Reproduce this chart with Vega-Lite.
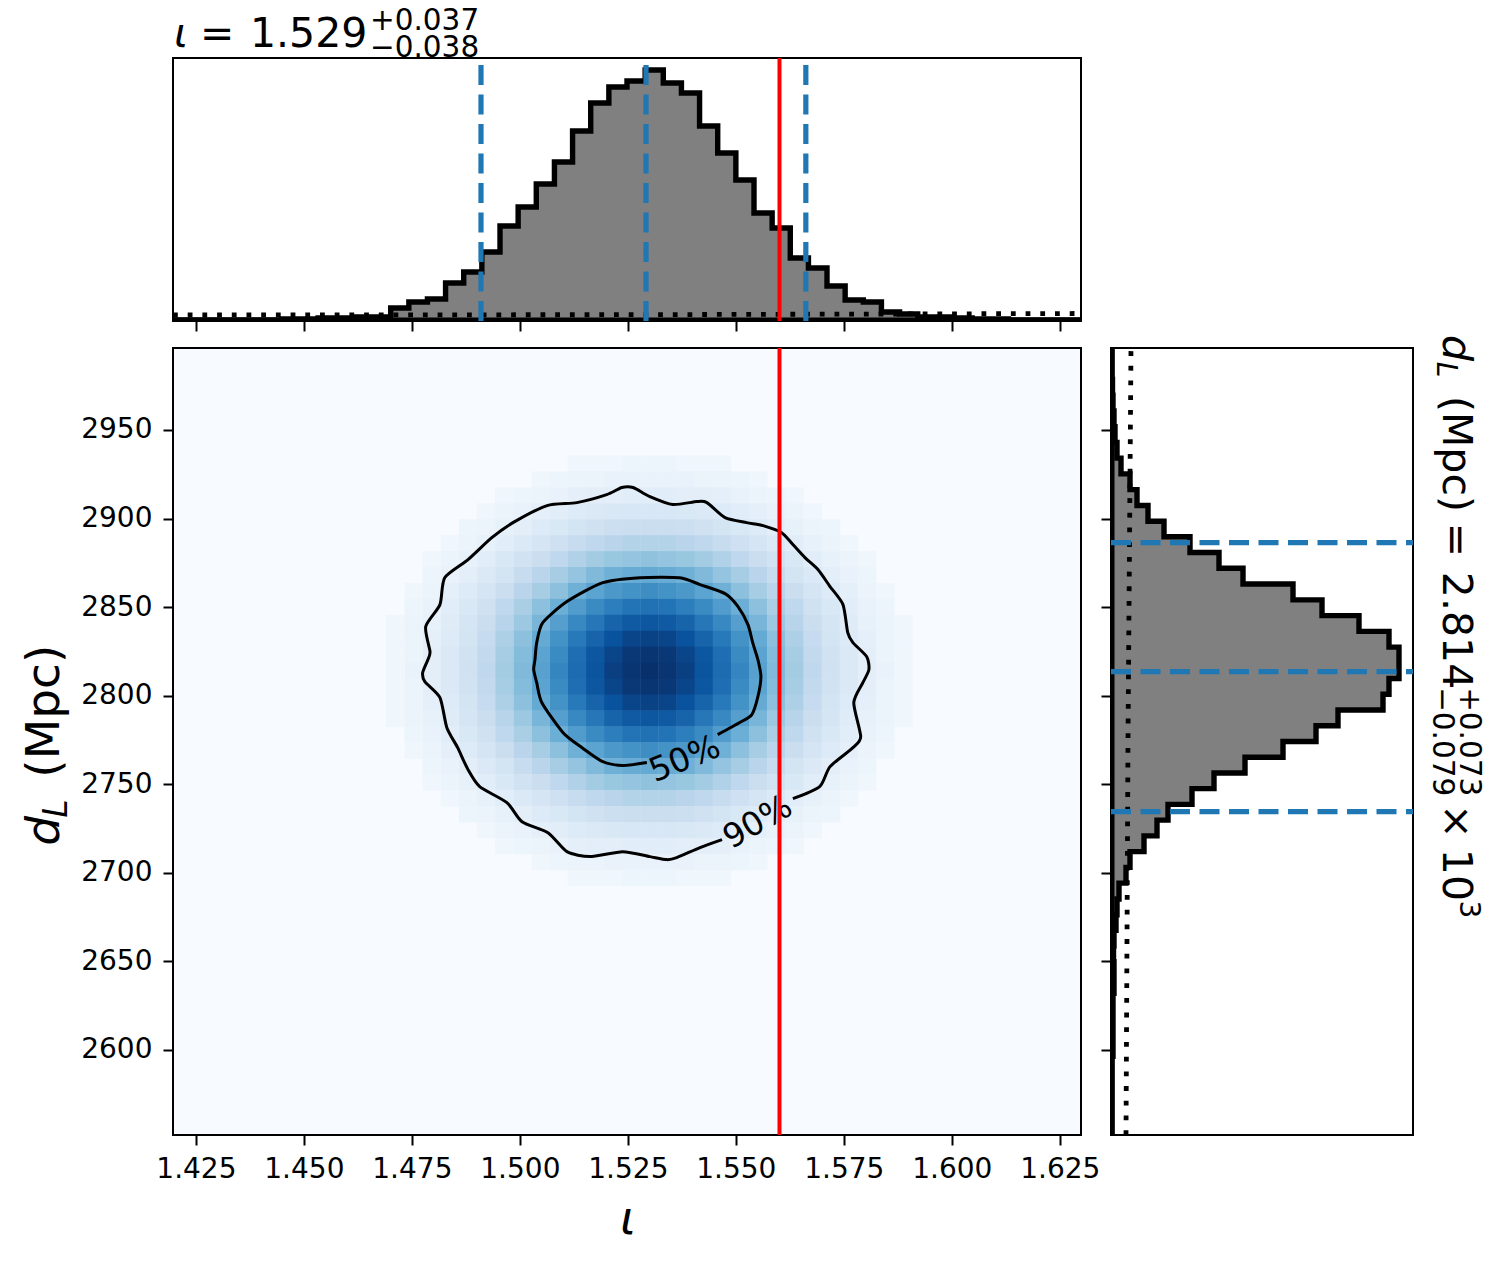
{"$schema":"https://vega.github.io/schema/vega-lite/v6.json","background":"white","padding":{"left":19,"top":4,"right":0,"bottom":0},"config":{"font":"DejaVu Sans","view":{"stroke":"black","strokeWidth":2,"continuousWidth":300,"continuousHeight":300},"axis":{"domain":false,"grid":false,"labelColor":"black","labelFont":"DejaVu Sans","labelFontSize":28,"tickColor":"black","tickWidth":2,"tickSize":10,"title":null,"labelPadding":10},"text":{"font":"DejaVu Sans","color":"black"}},
"datasets":{"top":[{"x":1.4197,"h":0},{"x":1.4407,"h":0},{"x":1.4449,"h":1},{"x":1.4491,"h":1},{"x":1.4533,"h":2},{"x":1.4575,"h":2},{"x":1.4617,"h":3},{"x":1.4659,"h":3},{"x":1.4701,"h":12},{"x":1.4743,"h":18},{"x":1.4786,"h":21},{"x":1.4828,"h":37},{"x":1.487,"h":48},{"x":1.4912,"h":68},{"x":1.4954,"h":94},{"x":1.4996,"h":113},{"x":1.5038,"h":136},{"x":1.508,"h":158},{"x":1.5122,"h":189},{"x":1.5164,"h":217},{"x":1.5206,"h":233},{"x":1.5248,"h":239},{"x":1.529,"h":250},{"x":1.5332,"h":237},{"x":1.5374,"h":227},{"x":1.5416,"h":194},{"x":1.5458,"h":167},{"x":1.55,"h":140},{"x":1.5542,"h":107},{"x":1.5584,"h":92},{"x":1.5626,"h":62},{"x":1.5668,"h":52},{"x":1.5711,"h":34},{"x":1.5753,"h":20},{"x":1.5795,"h":18},{"x":1.5837,"h":8},{"x":1.5879,"h":6},{"x":1.5921,"h":3},{"x":1.5963,"h":3},{"x":1.6005,"h":2},{"x":1.6047,"h":1},{"x":1.6089,"h":1},{"x":1.6131,"h":0},{"x":1.6299,"h":0}],
"right":[{"y":2551.9,"h":0},{"y":2596.4,"h":1},{"y":2605.2,"h":1},{"y":2614.1,"h":1},{"y":2623,"h":1},{"y":2631.9,"h":2},{"y":2640.8,"h":2},{"y":2649.7,"h":1.5},{"y":2658.6,"h":2},{"y":2667.5,"h":4},{"y":2676.3,"h":5},{"y":2685.2,"h":7},{"y":2694.1,"h":14},{"y":2703,"h":18},{"y":2711.9,"h":32},{"y":2720.8,"h":45},{"y":2729.7,"h":56},{"y":2738.6,"h":80},{"y":2747.5,"h":102},{"y":2756.3,"h":133},{"y":2765.2,"h":171},{"y":2774.1,"h":204},{"y":2783,"h":226},{"y":2791.9,"h":271},{"y":2800.8,"h":277},{"y":2809.7,"h":287},{"y":2818.6,"h":287},{"y":2827.4,"h":277},{"y":2836.3,"h":247},{"y":2845.2,"h":210},{"y":2854.1,"h":181},{"y":2863,"h":131},{"y":2871.9,"h":107},{"y":2880.8,"h":78},{"y":2889.7,"h":52},{"y":2898.5,"h":36},{"y":2907.4,"h":25},{"y":2916.3,"h":18},{"y":2925.2,"h":9},{"y":2934.1,"h":5},{"y":2943,"h":3},{"y":2951.9,"h":2},{"y":2960.8,"h":1},{"y":2969.6,"h":0.5},{"y":2978.5,"h":0},{"y":2996.3,"h":0}],
"priorTop":[{"x":1.4197,"h":5},{"x":1.525,"h":5.3},{"x":1.6299,"h":6.5}],
"priorRight":[{"y":2551.9,"h":14},{"y":2775,"h":16},{"y":2996.3,"h":19}],
"c90":[{"n":0,"x":1.5468,"y":2718.7},{"n":1,"x":1.5417,"y":2714.2},{"n":2,"x":1.5363,"y":2708.5},{"n":3,"x":1.534,"y":2707.4},{"n":4,"x":1.5301,"y":2709.1},{"n":5,"x":1.5238,"y":2711.9},{"n":6,"x":1.5162,"y":2709.1},{"n":7,"x":1.5109,"y":2711.9},{"n":8,"x":1.5065,"y":2722.6},{"n":9,"x":1.5005,"y":2728.8},{"n":10,"x":1.497,"y":2739.6},{"n":11,"x":1.4907,"y":2748.6},{"n":12,"x":1.488,"y":2758.2},{"n":13,"x":1.4856,"y":2770.6},{"n":14,"x":1.4831,"y":2781.9},{"n":15,"x":1.4815,"y":2798.9},{"n":16,"x":1.478,"y":2807.9},{"n":17,"x":1.4775,"y":2813},{"n":18,"x":1.4787,"y":2820.3},{"n":19,"x":1.4792,"y":2824.8},{"n":20,"x":1.4782,"y":2839},{"n":21,"x":1.4815,"y":2851.4},{"n":22,"x":1.4826,"y":2866.6},{"n":23,"x":1.488,"y":2876.8},{"n":24,"x":1.4935,"y":2889.2},{"n":25,"x":1.4984,"y":2897.7},{"n":26,"x":1.5063,"y":2907.3},{"n":27,"x":1.5132,"y":2909},{"n":28,"x":1.5201,"y":2913.5},{"n":29,"x":1.5236,"y":2917.5},{"n":30,"x":1.5262,"y":2917.5},{"n":31,"x":1.5301,"y":2912.4},{"n":32,"x":1.5354,"y":2907.9},{"n":33,"x":1.541,"y":2909.6},{"n":34,"x":1.5433,"y":2909},{"n":35,"x":1.5475,"y":2900.5},{"n":36,"x":1.5525,"y":2897.7},{"n":37,"x":1.5563,"y":2896},{"n":38,"x":1.5606,"y":2892},{"n":39,"x":1.5632,"y":2885.3},{"n":40,"x":1.566,"y":2877.9},{"n":41,"x":1.569,"y":2871.2},{"n":42,"x":1.5718,"y":2861.6},{"n":43,"x":1.5748,"y":2851.4},{"n":44,"x":1.5759,"y":2835.6},{"n":45,"x":1.5771,"y":2829.9},{"n":46,"x":1.5803,"y":2822},{"n":47,"x":1.5808,"y":2814.7},{"n":48,"x":1.5794,"y":2807.3},{"n":49,"x":1.5773,"y":2796},{"n":50,"x":1.5789,"y":2776.8},{"n":51,"x":1.5771,"y":2770.6},{"n":52,"x":1.5718,"y":2759.9},{"n":53,"x":1.5694,"y":2748.6},{"n":54,"x":1.5632,"y":2741.8}],
"c50":[{"n":0,"x":1.5294,"y":2762.2},{"n":1,"x":1.5238,"y":2760.5},{"n":2,"x":1.5192,"y":2762.7},{"n":3,"x":1.5144,"y":2770.6},{"n":4,"x":1.51,"y":2779.1},{"n":5,"x":1.5051,"y":2796},{"n":6,"x":1.5039,"y":2807.3},{"n":7,"x":1.5032,"y":2814.7},{"n":8,"x":1.5035,"y":2820.3},{"n":9,"x":1.5039,"y":2829.9},{"n":10,"x":1.5053,"y":2841.2},{"n":11,"x":1.5109,"y":2853.1},{"n":12,"x":1.5192,"y":2863.8},{"n":13,"x":1.5278,"y":2866.6},{"n":14,"x":1.537,"y":2866.6},{"n":15,"x":1.5417,"y":2862.7},{"n":16,"x":1.5475,"y":2857.6},{"n":17,"x":1.5505,"y":2850.3},{"n":18,"x":1.5528,"y":2840.1},{"n":19,"x":1.5539,"y":2829.9},{"n":20,"x":1.5551,"y":2820.3},{"n":21,"x":1.5558,"y":2810.7},{"n":22,"x":1.5551,"y":2799.4},{"n":23,"x":1.5537,"y":2789.3},{"n":24,"x":1.5509,"y":2784.8},{"n":25,"x":1.5458,"y":2778}],
"cells":[
{"x":1.53,"y":2931,"p":0.05},{"x":1.5342,"y":2931,"p":0.05},{"x":1.5258,"y":2931,"p":0.05},{"x":1.5384,"y":2931,"p":0.04},{"x":1.5216,"y":2931,"p":0.04},{"x":1.5426,"y":2931,"p":0.04},{"x":1.5174,"y":2931,"p":0.04},{"x":1.5468,"y":2931,"p":0.04},{"x":1.5132,"y":2931,"p":0.04},
{"x":1.53,"y":2922,"p":0.07},{"x":1.5342,"y":2922,"p":0.07},{"x":1.5258,"y":2922,"p":0.07},{"x":1.5384,"y":2922,"p":0.07},{"x":1.5216,"y":2922,"p":0.07},{"x":1.5426,"y":2922,"p":0.06},{"x":1.5174,"y":2922,"p":0.06},{"x":1.5468,"y":2922,"p":0.06},{"x":1.5132,"y":2922,"p":0.06},{"x":1.551,"y":2922,"p":0.05},{"x":1.509,"y":2922,"p":0.05},{"x":1.5552,"y":2922,"p":0.04},{"x":1.5048,"y":2922,"p":0.04},
{"x":1.53,"y":2913,"p":0.11},{"x":1.5342,"y":2913,"p":0.11},{"x":1.5258,"y":2913,"p":0.11},{"x":1.5384,"y":2913,"p":0.1},{"x":1.5216,"y":2913,"p":0.1},{"x":1.5426,"y":2913,"p":0.1},{"x":1.5174,"y":2913,"p":0.1},{"x":1.5468,"y":2913,"p":0.09},{"x":1.5132,"y":2913,"p":0.09},{"x":1.551,"y":2913,"p":0.07},{"x":1.509,"y":2913,"p":0.07},{"x":1.5552,"y":2913,"p":0.06},{"x":1.5048,"y":2913,"p":0.06},{"x":1.5594,"y":2913,"p":0.05},{"x":1.5006,"y":2913,"p":0.05},{"x":1.5636,"y":2913,"p":0.04},{"x":1.4964,"y":2913,"p":0.04},
{"x":1.53,"y":2904,"p":0.16},{"x":1.5342,"y":2904,"p":0.16},{"x":1.5258,"y":2904,"p":0.16},{"x":1.5384,"y":2904,"p":0.15},{"x":1.5216,"y":2904,"p":0.15},{"x":1.5426,"y":2904,"p":0.14},{"x":1.5174,"y":2904,"p":0.14},{"x":1.5468,"y":2904,"p":0.13},{"x":1.5132,"y":2904,"p":0.13},{"x":1.551,"y":2904,"p":0.11},{"x":1.509,"y":2904,"p":0.11},{"x":1.5552,"y":2904,"p":0.09},{"x":1.5048,"y":2904,"p":0.09},{"x":1.5594,"y":2904,"p":0.07},{"x":1.5006,"y":2904,"p":0.07},{"x":1.5636,"y":2904,"p":0.06},{"x":1.4964,"y":2904,"p":0.06},{"x":1.5678,"y":2904,"p":0.04},{"x":1.4922,"y":2904,"p":0.04},
{"x":1.53,"y":2895,"p":0.23},{"x":1.5342,"y":2895,"p":0.23},{"x":1.5258,"y":2895,"p":0.23},{"x":1.5384,"y":2895,"p":0.22},{"x":1.5216,"y":2895,"p":0.22},{"x":1.5426,"y":2895,"p":0.2},{"x":1.5174,"y":2895,"p":0.2},{"x":1.5468,"y":2895,"p":0.18},{"x":1.5132,"y":2895,"p":0.18},{"x":1.551,"y":2895,"p":0.15},{"x":1.509,"y":2895,"p":0.15},{"x":1.5552,"y":2895,"p":0.13},{"x":1.5048,"y":2895,"p":0.13},{"x":1.5594,"y":2895,"p":0.1},{"x":1.5006,"y":2895,"p":0.1},{"x":1.5636,"y":2895,"p":0.08},{"x":1.4964,"y":2895,"p":0.08},{"x":1.5678,"y":2895,"p":0.06},{"x":1.4922,"y":2895,"p":0.06},{"x":1.572,"y":2895,"p":0.05},{"x":1.488,"y":2895,"p":0.05},
{"x":1.53,"y":2886,"p":0.31},{"x":1.5342,"y":2886,"p":0.31},{"x":1.5258,"y":2886,"p":0.31},{"x":1.5384,"y":2886,"p":0.29},{"x":1.5216,"y":2886,"p":0.29},{"x":1.5426,"y":2886,"p":0.27},{"x":1.5174,"y":2886,"p":0.27},{"x":1.5468,"y":2886,"p":0.24},{"x":1.5132,"y":2886,"p":0.24},{"x":1.551,"y":2886,"p":0.21},{"x":1.509,"y":2886,"p":0.21},{"x":1.5552,"y":2886,"p":0.17},{"x":1.5048,"y":2886,"p":0.17},{"x":1.5594,"y":2886,"p":0.14},{"x":1.5006,"y":2886,"p":0.14},{"x":1.5636,"y":2886,"p":0.11},{"x":1.4964,"y":2886,"p":0.11},{"x":1.5678,"y":2886,"p":0.08},{"x":1.4922,"y":2886,"p":0.08},{"x":1.572,"y":2886,"p":0.06},{"x":1.488,"y":2886,"p":0.06},{"x":1.5762,"y":2886,"p":0.04},{"x":1.4838,"y":2886,"p":0.04},
{"x":1.53,"y":2877,"p":0.41},{"x":1.5342,"y":2877,"p":0.4},{"x":1.5258,"y":2877,"p":0.4},{"x":1.5384,"y":2877,"p":0.39},{"x":1.5216,"y":2877,"p":0.39},{"x":1.5426,"y":2877,"p":0.36},{"x":1.5174,"y":2877,"p":0.36},{"x":1.5468,"y":2877,"p":0.32},{"x":1.5132,"y":2877,"p":0.32},{"x":1.551,"y":2877,"p":0.27},{"x":1.509,"y":2877,"p":0.27},{"x":1.5552,"y":2877,"p":0.23},{"x":1.5048,"y":2877,"p":0.23},{"x":1.5594,"y":2877,"p":0.19},{"x":1.5006,"y":2877,"p":0.19},{"x":1.5636,"y":2877,"p":0.15},{"x":1.4964,"y":2877,"p":0.15},{"x":1.5678,"y":2877,"p":0.11},{"x":1.4922,"y":2877,"p":0.11},{"x":1.572,"y":2877,"p":0.08},{"x":1.488,"y":2877,"p":0.08},{"x":1.5762,"y":2877,"p":0.06},{"x":1.4838,"y":2877,"p":0.06},{"x":1.5804,"y":2877,"p":0.04},{"x":1.4796,"y":2877,"p":0.04},
{"x":1.53,"y":2868,"p":0.52},{"x":1.5342,"y":2868,"p":0.51},{"x":1.5258,"y":2868,"p":0.51},{"x":1.5384,"y":2868,"p":0.49},{"x":1.5216,"y":2868,"p":0.49},{"x":1.5426,"y":2868,"p":0.45},{"x":1.5174,"y":2868,"p":0.45},{"x":1.5468,"y":2868,"p":0.4},{"x":1.5132,"y":2868,"p":0.4},{"x":1.551,"y":2868,"p":0.35},{"x":1.509,"y":2868,"p":0.35},{"x":1.5552,"y":2868,"p":0.29},{"x":1.5048,"y":2868,"p":0.29},{"x":1.5594,"y":2868,"p":0.24},{"x":1.5006,"y":2868,"p":0.24},{"x":1.5636,"y":2868,"p":0.18},{"x":1.4964,"y":2868,"p":0.18},{"x":1.5678,"y":2868,"p":0.14},{"x":1.4922,"y":2868,"p":0.14},{"x":1.572,"y":2868,"p":0.1},{"x":1.488,"y":2868,"p":0.1},{"x":1.5762,"y":2868,"p":0.07},{"x":1.4838,"y":2868,"p":0.07},{"x":1.5804,"y":2868,"p":0.05},{"x":1.4796,"y":2868,"p":0.05},
{"x":1.53,"y":2859,"p":0.64},{"x":1.5342,"y":2859,"p":0.62},{"x":1.5258,"y":2859,"p":0.62},{"x":1.5384,"y":2859,"p":0.6},{"x":1.5216,"y":2859,"p":0.6},{"x":1.5426,"y":2859,"p":0.55},{"x":1.5174,"y":2859,"p":0.55},{"x":1.5468,"y":2859,"p":0.49},{"x":1.5132,"y":2859,"p":0.49},{"x":1.551,"y":2859,"p":0.42},{"x":1.509,"y":2859,"p":0.42},{"x":1.5552,"y":2859,"p":0.35},{"x":1.5048,"y":2859,"p":0.35},{"x":1.5594,"y":2859,"p":0.29},{"x":1.5006,"y":2859,"p":0.29},{"x":1.5636,"y":2859,"p":0.23},{"x":1.4964,"y":2859,"p":0.23},{"x":1.5678,"y":2859,"p":0.17},{"x":1.4922,"y":2859,"p":0.17},{"x":1.572,"y":2859,"p":0.13},{"x":1.488,"y":2859,"p":0.13},{"x":1.5762,"y":2859,"p":0.09},{"x":1.4838,"y":2859,"p":0.09},{"x":1.5804,"y":2859,"p":0.06},{"x":1.4796,"y":2859,"p":0.06},{"x":1.5846,"y":2859,"p":0.04},{"x":1.4754,"y":2859,"p":0.04},
{"x":1.53,"y":2850,"p":0.75},{"x":1.5342,"y":2850,"p":0.74},{"x":1.5258,"y":2850,"p":0.74},{"x":1.5384,"y":2850,"p":0.7},{"x":1.5216,"y":2850,"p":0.7},{"x":1.5426,"y":2850,"p":0.65},{"x":1.5174,"y":2850,"p":0.65},{"x":1.5468,"y":2850,"p":0.58},{"x":1.5132,"y":2850,"p":0.58},{"x":1.551,"y":2850,"p":0.5},{"x":1.509,"y":2850,"p":0.5},{"x":1.5552,"y":2850,"p":0.42},{"x":1.5048,"y":2850,"p":0.42},{"x":1.5594,"y":2850,"p":0.34},{"x":1.5006,"y":2850,"p":0.34},{"x":1.5636,"y":2850,"p":0.27},{"x":1.4964,"y":2850,"p":0.27},{"x":1.5678,"y":2850,"p":0.2},{"x":1.4922,"y":2850,"p":0.2},{"x":1.572,"y":2850,"p":0.15},{"x":1.488,"y":2850,"p":0.15},{"x":1.5762,"y":2850,"p":0.11},{"x":1.4838,"y":2850,"p":0.11},{"x":1.5804,"y":2850,"p":0.07},{"x":1.4796,"y":2850,"p":0.07},{"x":1.5846,"y":2850,"p":0.05},{"x":1.4754,"y":2850,"p":0.05},
{"x":1.53,"y":2841,"p":0.85},{"x":1.5342,"y":2841,"p":0.84},{"x":1.5258,"y":2841,"p":0.84},{"x":1.5384,"y":2841,"p":0.8},{"x":1.5216,"y":2841,"p":0.8},{"x":1.5426,"y":2841,"p":0.73},{"x":1.5174,"y":2841,"p":0.73},{"x":1.5468,"y":2841,"p":0.66},{"x":1.5132,"y":2841,"p":0.66},{"x":1.551,"y":2841,"p":0.57},{"x":1.509,"y":2841,"p":0.57},{"x":1.5552,"y":2841,"p":0.47},{"x":1.5048,"y":2841,"p":0.47},{"x":1.5594,"y":2841,"p":0.38},{"x":1.5006,"y":2841,"p":0.38},{"x":1.5636,"y":2841,"p":0.3},{"x":1.4964,"y":2841,"p":0.3},{"x":1.5678,"y":2841,"p":0.23},{"x":1.4922,"y":2841,"p":0.23},{"x":1.572,"y":2841,"p":0.17},{"x":1.488,"y":2841,"p":0.17},{"x":1.5762,"y":2841,"p":0.12},{"x":1.4838,"y":2841,"p":0.12},{"x":1.5804,"y":2841,"p":0.08},{"x":1.4796,"y":2841,"p":0.08},{"x":1.5846,"y":2841,"p":0.06},{"x":1.4754,"y":2841,"p":0.06},{"x":1.5888,"y":2841,"p":0.04},{"x":1.4712,"y":2841,"p":0.04},
{"x":1.53,"y":2832,"p":0.93},{"x":1.5342,"y":2832,"p":0.92},{"x":1.5258,"y":2832,"p":0.92},{"x":1.5384,"y":2832,"p":0.87},{"x":1.5216,"y":2832,"p":0.87},{"x":1.5426,"y":2832,"p":0.8},{"x":1.5174,"y":2832,"p":0.8},{"x":1.5468,"y":2832,"p":0.72},{"x":1.5132,"y":2832,"p":0.72},{"x":1.551,"y":2832,"p":0.62},{"x":1.509,"y":2832,"p":0.62},{"x":1.5552,"y":2832,"p":0.52},{"x":1.5048,"y":2832,"p":0.52},{"x":1.5594,"y":2832,"p":0.42},{"x":1.5006,"y":2832,"p":0.42},{"x":1.5636,"y":2832,"p":0.33},{"x":1.4964,"y":2832,"p":0.33},{"x":1.5678,"y":2832,"p":0.25},{"x":1.4922,"y":2832,"p":0.25},{"x":1.572,"y":2832,"p":0.18},{"x":1.488,"y":2832,"p":0.18},{"x":1.5762,"y":2832,"p":0.13},{"x":1.4838,"y":2832,"p":0.13},{"x":1.5804,"y":2832,"p":0.09},{"x":1.4796,"y":2832,"p":0.09},{"x":1.5846,"y":2832,"p":0.06},{"x":1.4754,"y":2832,"p":0.06},{"x":1.5888,"y":2832,"p":0.04},{"x":1.4712,"y":2832,"p":0.04},
{"x":1.53,"y":2823,"p":0.98},{"x":1.5342,"y":2823,"p":0.97},{"x":1.5258,"y":2823,"p":0.97},{"x":1.5384,"y":2823,"p":0.92},{"x":1.5216,"y":2823,"p":0.92},{"x":1.5426,"y":2823,"p":0.85},{"x":1.5174,"y":2823,"p":0.85},{"x":1.5468,"y":2823,"p":0.76},{"x":1.5132,"y":2823,"p":0.76},{"x":1.551,"y":2823,"p":0.65},{"x":1.509,"y":2823,"p":0.65},{"x":1.5552,"y":2823,"p":0.55},{"x":1.5048,"y":2823,"p":0.55},{"x":1.5594,"y":2823,"p":0.44},{"x":1.5006,"y":2823,"p":0.44},{"x":1.5636,"y":2823,"p":0.35},{"x":1.4964,"y":2823,"p":0.35},{"x":1.5678,"y":2823,"p":0.26},{"x":1.4922,"y":2823,"p":0.26},{"x":1.572,"y":2823,"p":0.19},{"x":1.488,"y":2823,"p":0.19},{"x":1.5762,"y":2823,"p":0.14},{"x":1.4838,"y":2823,"p":0.14},{"x":1.5804,"y":2823,"p":0.1},{"x":1.4796,"y":2823,"p":0.1},{"x":1.5846,"y":2823,"p":0.06},{"x":1.4754,"y":2823,"p":0.06},{"x":1.5888,"y":2823,"p":0.04},{"x":1.4712,"y":2823,"p":0.04},
{"x":1.53,"y":2814,"p":1},{"x":1.5342,"y":2814,"p":0.98},{"x":1.5258,"y":2814,"p":0.98},{"x":1.5384,"y":2814,"p":0.94},{"x":1.5216,"y":2814,"p":0.94},{"x":1.5426,"y":2814,"p":0.86},{"x":1.5174,"y":2814,"p":0.86},{"x":1.5468,"y":2814,"p":0.77},{"x":1.5132,"y":2814,"p":0.77},{"x":1.551,"y":2814,"p":0.67},{"x":1.509,"y":2814,"p":0.67},{"x":1.5552,"y":2814,"p":0.56},{"x":1.5048,"y":2814,"p":0.56},{"x":1.5594,"y":2814,"p":0.45},{"x":1.5006,"y":2814,"p":0.45},{"x":1.5636,"y":2814,"p":0.36},{"x":1.4964,"y":2814,"p":0.36},{"x":1.5678,"y":2814,"p":0.27},{"x":1.4922,"y":2814,"p":0.27},{"x":1.572,"y":2814,"p":0.2},{"x":1.488,"y":2814,"p":0.2},{"x":1.5762,"y":2814,"p":0.14},{"x":1.4838,"y":2814,"p":0.14},{"x":1.5804,"y":2814,"p":0.1},{"x":1.4796,"y":2814,"p":0.1},{"x":1.5846,"y":2814,"p":0.07},{"x":1.4754,"y":2814,"p":0.07},{"x":1.5888,"y":2814,"p":0.04},{"x":1.4712,"y":2814,"p":0.04},
{"x":1.53,"y":2805,"p":0.98},{"x":1.5342,"y":2805,"p":0.97},{"x":1.5258,"y":2805,"p":0.97},{"x":1.5384,"y":2805,"p":0.92},{"x":1.5216,"y":2805,"p":0.92},{"x":1.5426,"y":2805,"p":0.85},{"x":1.5174,"y":2805,"p":0.85},{"x":1.5468,"y":2805,"p":0.76},{"x":1.5132,"y":2805,"p":0.76},{"x":1.551,"y":2805,"p":0.65},{"x":1.509,"y":2805,"p":0.65},{"x":1.5552,"y":2805,"p":0.55},{"x":1.5048,"y":2805,"p":0.55},{"x":1.5594,"y":2805,"p":0.44},{"x":1.5006,"y":2805,"p":0.44},{"x":1.5636,"y":2805,"p":0.35},{"x":1.4964,"y":2805,"p":0.35},{"x":1.5678,"y":2805,"p":0.26},{"x":1.4922,"y":2805,"p":0.26},{"x":1.572,"y":2805,"p":0.19},{"x":1.488,"y":2805,"p":0.19},{"x":1.5762,"y":2805,"p":0.14},{"x":1.4838,"y":2805,"p":0.14},{"x":1.5804,"y":2805,"p":0.1},{"x":1.4796,"y":2805,"p":0.1},{"x":1.5846,"y":2805,"p":0.06},{"x":1.4754,"y":2805,"p":0.06},{"x":1.5888,"y":2805,"p":0.04},{"x":1.4712,"y":2805,"p":0.04},
{"x":1.53,"y":2796,"p":0.93},{"x":1.5342,"y":2796,"p":0.92},{"x":1.5258,"y":2796,"p":0.92},{"x":1.5384,"y":2796,"p":0.87},{"x":1.5216,"y":2796,"p":0.87},{"x":1.5426,"y":2796,"p":0.8},{"x":1.5174,"y":2796,"p":0.8},{"x":1.5468,"y":2796,"p":0.72},{"x":1.5132,"y":2796,"p":0.72},{"x":1.551,"y":2796,"p":0.62},{"x":1.509,"y":2796,"p":0.62},{"x":1.5552,"y":2796,"p":0.52},{"x":1.5048,"y":2796,"p":0.52},{"x":1.5594,"y":2796,"p":0.42},{"x":1.5006,"y":2796,"p":0.42},{"x":1.5636,"y":2796,"p":0.33},{"x":1.4964,"y":2796,"p":0.33},{"x":1.5678,"y":2796,"p":0.25},{"x":1.4922,"y":2796,"p":0.25},{"x":1.572,"y":2796,"p":0.18},{"x":1.488,"y":2796,"p":0.18},{"x":1.5762,"y":2796,"p":0.13},{"x":1.4838,"y":2796,"p":0.13},{"x":1.5804,"y":2796,"p":0.09},{"x":1.4796,"y":2796,"p":0.09},{"x":1.5846,"y":2796,"p":0.06},{"x":1.4754,"y":2796,"p":0.06},{"x":1.5888,"y":2796,"p":0.04},{"x":1.4712,"y":2796,"p":0.04},
{"x":1.53,"y":2787,"p":0.85},{"x":1.5342,"y":2787,"p":0.84},{"x":1.5258,"y":2787,"p":0.84},{"x":1.5384,"y":2787,"p":0.8},{"x":1.5216,"y":2787,"p":0.8},{"x":1.5426,"y":2787,"p":0.73},{"x":1.5174,"y":2787,"p":0.73},{"x":1.5468,"y":2787,"p":0.66},{"x":1.5132,"y":2787,"p":0.66},{"x":1.551,"y":2787,"p":0.57},{"x":1.509,"y":2787,"p":0.57},{"x":1.5552,"y":2787,"p":0.47},{"x":1.5048,"y":2787,"p":0.47},{"x":1.5594,"y":2787,"p":0.38},{"x":1.5006,"y":2787,"p":0.38},{"x":1.5636,"y":2787,"p":0.3},{"x":1.4964,"y":2787,"p":0.3},{"x":1.5678,"y":2787,"p":0.23},{"x":1.4922,"y":2787,"p":0.23},{"x":1.572,"y":2787,"p":0.17},{"x":1.488,"y":2787,"p":0.17},{"x":1.5762,"y":2787,"p":0.12},{"x":1.4838,"y":2787,"p":0.12},{"x":1.5804,"y":2787,"p":0.08},{"x":1.4796,"y":2787,"p":0.08},{"x":1.5846,"y":2787,"p":0.06},{"x":1.4754,"y":2787,"p":0.06},{"x":1.5888,"y":2787,"p":0.04},{"x":1.4712,"y":2787,"p":0.04},
{"x":1.53,"y":2778,"p":0.75},{"x":1.5342,"y":2778,"p":0.74},{"x":1.5258,"y":2778,"p":0.74},{"x":1.5384,"y":2778,"p":0.7},{"x":1.5216,"y":2778,"p":0.7},{"x":1.5426,"y":2778,"p":0.65},{"x":1.5174,"y":2778,"p":0.65},{"x":1.5468,"y":2778,"p":0.58},{"x":1.5132,"y":2778,"p":0.58},{"x":1.551,"y":2778,"p":0.5},{"x":1.509,"y":2778,"p":0.5},{"x":1.5552,"y":2778,"p":0.42},{"x":1.5048,"y":2778,"p":0.42},{"x":1.5594,"y":2778,"p":0.34},{"x":1.5006,"y":2778,"p":0.34},{"x":1.5636,"y":2778,"p":0.27},{"x":1.4964,"y":2778,"p":0.27},{"x":1.5678,"y":2778,"p":0.2},{"x":1.4922,"y":2778,"p":0.2},{"x":1.572,"y":2778,"p":0.15},{"x":1.488,"y":2778,"p":0.15},{"x":1.5762,"y":2778,"p":0.11},{"x":1.4838,"y":2778,"p":0.11},{"x":1.5804,"y":2778,"p":0.07},{"x":1.4796,"y":2778,"p":0.07},{"x":1.5846,"y":2778,"p":0.05},{"x":1.4754,"y":2778,"p":0.05},
{"x":1.53,"y":2769,"p":0.64},{"x":1.5342,"y":2769,"p":0.62},{"x":1.5258,"y":2769,"p":0.62},{"x":1.5384,"y":2769,"p":0.6},{"x":1.5216,"y":2769,"p":0.6},{"x":1.5426,"y":2769,"p":0.55},{"x":1.5174,"y":2769,"p":0.55},{"x":1.5468,"y":2769,"p":0.49},{"x":1.5132,"y":2769,"p":0.49},{"x":1.551,"y":2769,"p":0.42},{"x":1.509,"y":2769,"p":0.42},{"x":1.5552,"y":2769,"p":0.35},{"x":1.5048,"y":2769,"p":0.35},{"x":1.5594,"y":2769,"p":0.29},{"x":1.5006,"y":2769,"p":0.29},{"x":1.5636,"y":2769,"p":0.23},{"x":1.4964,"y":2769,"p":0.23},{"x":1.5678,"y":2769,"p":0.17},{"x":1.4922,"y":2769,"p":0.17},{"x":1.572,"y":2769,"p":0.13},{"x":1.488,"y":2769,"p":0.13},{"x":1.5762,"y":2769,"p":0.09},{"x":1.4838,"y":2769,"p":0.09},{"x":1.5804,"y":2769,"p":0.06},{"x":1.4796,"y":2769,"p":0.06},{"x":1.5846,"y":2769,"p":0.04},{"x":1.4754,"y":2769,"p":0.04},
{"x":1.53,"y":2760,"p":0.52},{"x":1.5342,"y":2760,"p":0.51},{"x":1.5258,"y":2760,"p":0.51},{"x":1.5384,"y":2760,"p":0.49},{"x":1.5216,"y":2760,"p":0.49},{"x":1.5426,"y":2760,"p":0.45},{"x":1.5174,"y":2760,"p":0.45},{"x":1.5468,"y":2760,"p":0.4},{"x":1.5132,"y":2760,"p":0.4},{"x":1.551,"y":2760,"p":0.35},{"x":1.509,"y":2760,"p":0.35},{"x":1.5552,"y":2760,"p":0.29},{"x":1.5048,"y":2760,"p":0.29},{"x":1.5594,"y":2760,"p":0.24},{"x":1.5006,"y":2760,"p":0.24},{"x":1.5636,"y":2760,"p":0.18},{"x":1.4964,"y":2760,"p":0.18},{"x":1.5678,"y":2760,"p":0.14},{"x":1.4922,"y":2760,"p":0.14},{"x":1.572,"y":2760,"p":0.1},{"x":1.488,"y":2760,"p":0.1},{"x":1.5762,"y":2760,"p":0.07},{"x":1.4838,"y":2760,"p":0.07},{"x":1.5804,"y":2760,"p":0.05},{"x":1.4796,"y":2760,"p":0.05},
{"x":1.53,"y":2751,"p":0.41},{"x":1.5342,"y":2751,"p":0.4},{"x":1.5258,"y":2751,"p":0.4},{"x":1.5384,"y":2751,"p":0.39},{"x":1.5216,"y":2751,"p":0.39},{"x":1.5426,"y":2751,"p":0.36},{"x":1.5174,"y":2751,"p":0.36},{"x":1.5468,"y":2751,"p":0.32},{"x":1.5132,"y":2751,"p":0.32},{"x":1.551,"y":2751,"p":0.27},{"x":1.509,"y":2751,"p":0.27},{"x":1.5552,"y":2751,"p":0.23},{"x":1.5048,"y":2751,"p":0.23},{"x":1.5594,"y":2751,"p":0.19},{"x":1.5006,"y":2751,"p":0.19},{"x":1.5636,"y":2751,"p":0.15},{"x":1.4964,"y":2751,"p":0.15},{"x":1.5678,"y":2751,"p":0.11},{"x":1.4922,"y":2751,"p":0.11},{"x":1.572,"y":2751,"p":0.08},{"x":1.488,"y":2751,"p":0.08},{"x":1.5762,"y":2751,"p":0.06},{"x":1.4838,"y":2751,"p":0.06},{"x":1.5804,"y":2751,"p":0.04},{"x":1.4796,"y":2751,"p":0.04},
{"x":1.53,"y":2742,"p":0.31},{"x":1.5342,"y":2742,"p":0.31},{"x":1.5258,"y":2742,"p":0.31},{"x":1.5384,"y":2742,"p":0.29},{"x":1.5216,"y":2742,"p":0.29},{"x":1.5426,"y":2742,"p":0.27},{"x":1.5174,"y":2742,"p":0.27},{"x":1.5468,"y":2742,"p":0.24},{"x":1.5132,"y":2742,"p":0.24},{"x":1.551,"y":2742,"p":0.21},{"x":1.509,"y":2742,"p":0.21},{"x":1.5552,"y":2742,"p":0.17},{"x":1.5048,"y":2742,"p":0.17},{"x":1.5594,"y":2742,"p":0.14},{"x":1.5006,"y":2742,"p":0.14},{"x":1.5636,"y":2742,"p":0.11},{"x":1.4964,"y":2742,"p":0.11},{"x":1.5678,"y":2742,"p":0.08},{"x":1.4922,"y":2742,"p":0.08},{"x":1.572,"y":2742,"p":0.06},{"x":1.488,"y":2742,"p":0.06},{"x":1.5762,"y":2742,"p":0.04},{"x":1.4838,"y":2742,"p":0.04},
{"x":1.53,"y":2733,"p":0.23},{"x":1.5342,"y":2733,"p":0.23},{"x":1.5258,"y":2733,"p":0.23},{"x":1.5384,"y":2733,"p":0.22},{"x":1.5216,"y":2733,"p":0.22},{"x":1.5426,"y":2733,"p":0.2},{"x":1.5174,"y":2733,"p":0.2},{"x":1.5468,"y":2733,"p":0.18},{"x":1.5132,"y":2733,"p":0.18},{"x":1.551,"y":2733,"p":0.15},{"x":1.509,"y":2733,"p":0.15},{"x":1.5552,"y":2733,"p":0.13},{"x":1.5048,"y":2733,"p":0.13},{"x":1.5594,"y":2733,"p":0.1},{"x":1.5006,"y":2733,"p":0.1},{"x":1.5636,"y":2733,"p":0.08},{"x":1.4964,"y":2733,"p":0.08},{"x":1.5678,"y":2733,"p":0.06},{"x":1.4922,"y":2733,"p":0.06},{"x":1.572,"y":2733,"p":0.05},{"x":1.488,"y":2733,"p":0.05},
{"x":1.53,"y":2724,"p":0.16},{"x":1.5342,"y":2724,"p":0.16},{"x":1.5258,"y":2724,"p":0.16},{"x":1.5384,"y":2724,"p":0.15},{"x":1.5216,"y":2724,"p":0.15},{"x":1.5426,"y":2724,"p":0.14},{"x":1.5174,"y":2724,"p":0.14},{"x":1.5468,"y":2724,"p":0.13},{"x":1.5132,"y":2724,"p":0.13},{"x":1.551,"y":2724,"p":0.11},{"x":1.509,"y":2724,"p":0.11},{"x":1.5552,"y":2724,"p":0.09},{"x":1.5048,"y":2724,"p":0.09},{"x":1.5594,"y":2724,"p":0.07},{"x":1.5006,"y":2724,"p":0.07},{"x":1.5636,"y":2724,"p":0.06},{"x":1.4964,"y":2724,"p":0.06},{"x":1.5678,"y":2724,"p":0.04},{"x":1.4922,"y":2724,"p":0.04},
{"x":1.53,"y":2715,"p":0.11},{"x":1.5342,"y":2715,"p":0.11},{"x":1.5258,"y":2715,"p":0.11},{"x":1.5384,"y":2715,"p":0.1},{"x":1.5216,"y":2715,"p":0.1},{"x":1.5426,"y":2715,"p":0.1},{"x":1.5174,"y":2715,"p":0.1},{"x":1.5468,"y":2715,"p":0.09},{"x":1.5132,"y":2715,"p":0.09},{"x":1.551,"y":2715,"p":0.07},{"x":1.509,"y":2715,"p":0.07},{"x":1.5552,"y":2715,"p":0.06},{"x":1.5048,"y":2715,"p":0.06},{"x":1.5594,"y":2715,"p":0.05},{"x":1.5006,"y":2715,"p":0.05},{"x":1.5636,"y":2715,"p":0.04},{"x":1.4964,"y":2715,"p":0.04},
{"x":1.53,"y":2706,"p":0.07},{"x":1.5342,"y":2706,"p":0.07},{"x":1.5258,"y":2706,"p":0.07},{"x":1.5384,"y":2706,"p":0.07},{"x":1.5216,"y":2706,"p":0.07},{"x":1.5426,"y":2706,"p":0.06},{"x":1.5174,"y":2706,"p":0.06},{"x":1.5468,"y":2706,"p":0.06},{"x":1.5132,"y":2706,"p":0.06},{"x":1.551,"y":2706,"p":0.05},{"x":1.509,"y":2706,"p":0.05},{"x":1.5552,"y":2706,"p":0.04},{"x":1.5048,"y":2706,"p":0.04},
{"x":1.53,"y":2697,"p":0.05},{"x":1.5342,"y":2697,"p":0.05},{"x":1.5258,"y":2697,"p":0.05},{"x":1.5384,"y":2697,"p":0.04},{"x":1.5216,"y":2697,"p":0.04},{"x":1.5426,"y":2697,"p":0.04},{"x":1.5174,"y":2697,"p":0.04},{"x":1.5468,"y":2697,"p":0.04},{"x":1.5132,"y":2697,"p":0.04}
]},
"vconcat":[
{"width":908,"height":263,"layer":[
{"data":{"name":"top"},"mark":{"type":"area","interpolate":"step-after","color":"#808080","clip":true},"encoding":{"x":{"field":"x","type":"quantitative","scale":{"domain":[1.4197,1.6299],"nice":false,"zero":false},"axis":{"values":[1.425,1.45,1.475,1.5,1.525,1.55,1.575,1.6,1.625],"labels":false}},"y":{"field":"h","type":"quantitative","scale":{"domain":[-1,262],"nice":false,"zero":false},"axis":null}}},
{"data":{"name":"top"},"mark":{"type":"line","interpolate":"step-after","color":"black","strokeWidth":5.4,"clip":true},"encoding":{"x":{"field":"x","type":"quantitative"},"y":{"field":"h","type":"quantitative","axis":null}}},
{"data":{"values":[{"b":0}]},"mark":{"type":"rule","color":"black","strokeWidth":5,"clip":true},"encoding":{"y":{"field":"b","type":"quantitative","axis":null}}},
{"data":{"name":"priorTop"},"mark":{"type":"line","color":"black","strokeWidth":4.8,"strokeDash":[4.8,9.9],"clip":true},"encoding":{"x":{"field":"x","type":"quantitative"},"y":{"field":"h","type":"quantitative","axis":null}}},
{"data":{"values":[{"x":1.491},{"x":1.5292},{"x":1.5662}]},"mark":{"type":"rule","color":"#1f77b4","strokeWidth":5.2,"strokeDash":[20,9.5],"clip":true},"encoding":{"x":{"field":"x","type":"quantitative"},"y":{"datum":-1,"type":"quantitative","axis":null},"y2":{"datum":262}}},
{"data":{"values":[{"x":1.5601}]},"mark":{"type":"rule","color":"red","strokeWidth":4},"encoding":{"x":{"field":"x","type":"quantitative"}}},
{"data":{"values":[{"t":"ι"}]},"mark":{"type":"text","fontSize":41,"fontStyle":"italic","align":"left","baseline":"alphabetic"},"encoding":{"text":{"field":"t"},"x":{"datum":1.41993,"type":"quantitative"},"y":{"datum":273,"type":"quantitative","axis":null}}},
{"data":{"values":[{"t":"="}]},"mark":{"type":"text","fontSize":41,"align":"left","baseline":"alphabetic"},"encoding":{"text":{"field":"t"},"x":{"datum":1.42595,"type":"quantitative"},"y":{"datum":273,"type":"quantitative","axis":null}}},
{"data":{"values":[{"t":"1.529"}]},"mark":{"type":"text","fontSize":41,"align":"left","baseline":"alphabetic"},"encoding":{"text":{"field":"t"},"x":{"datum":1.43752,"type":"quantitative"},"y":{"datum":273,"type":"quantitative","axis":null}}},
{"data":{"values":[{"t":"+0.037"}]},"mark":{"type":"text","fontSize":29.5,"align":"left","baseline":"alphabetic"},"encoding":{"text":{"field":"t"},"x":{"datum":1.4653,"type":"quantitative"},"y":{"datum":290,"type":"quantitative","axis":null}}},
{"data":{"values":[{"t":"−0.038"}]},"mark":{"type":"text","fontSize":29.5,"align":"left","baseline":"alphabetic"},"encoding":{"text":{"field":"t"},"x":{"datum":1.4653,"type":"quantitative"},"y":{"datum":263,"type":"quantitative","axis":null}}}
]},
{"hconcat":[
{"width":908,"height":787,"view":{"fill":"#f7fbff","stroke":"black","strokeWidth":2},"layer":[
{"data":{"name":"cells"},"mark":{"type":"rect","width":18.6,"height":16.4},"encoding":{"x":{"field":"x","type":"quantitative","scale":{"domain":[1.4197,1.6299],"nice":false,"zero":false},"axis":{"values":[1.425,1.45,1.475,1.5,1.525,1.55,1.575,1.6,1.625],"format":".3f"}},"y":{"field":"y","type":"quantitative","scale":{"domain":[2551.9,2996.3],"nice":false,"zero":false},"axis":{"values":[2600,2650,2700,2750,2800,2850,2900,2950],"format":"d","labelPadding":11}},"color":{"field":"p","type":"quantitative","legend":null,"scale":{"domain":[0,0.125,0.25,0.375,0.5,0.625,0.75,0.875,1],"range":["#f7fbff","#deebf7","#c6dbef","#9ecae1","#6baed6","#4292c6","#2171b5","#08519c","#08306b"]}}}},
{"data":{"name":"c90"},"mark":{"type":"line","color":"black","strokeWidth":3,"interpolate":"cardinal","tension":0.3},"encoding":{"x":{"field":"x","type":"quantitative"},"y":{"field":"y","type":"quantitative"},"order":{"field":"n"}}},
{"data":{"name":"c50"},"mark":{"type":"line","color":"black","strokeWidth":3,"interpolate":"cardinal","tension":0.3},"encoding":{"x":{"field":"x","type":"quantitative"},"y":{"field":"y","type":"quantitative"},"order":{"field":"n"}}},
{"data":{"values":[{"t":"50%"}]},"mark":{"type":"text","fontSize":33,"angle":338,"align":"center","baseline":"middle"},"encoding":{"text":{"field":"t"},"x":{"datum":1.5382,"type":"quantitative"},"y":{"datum":2763.9,"type":"quantitative"}}},
{"data":{"values":[{"t":"90%"}]},"mark":{"type":"text","fontSize":33,"angle":330,"align":"center","baseline":"middle"},"encoding":{"text":{"field":"t"},"x":{"datum":1.5551,"type":"quantitative"},"y":{"datum":2728.3,"type":"quantitative"}}},
{"data":{"values":[{"x":1.5601}]},"mark":{"type":"rule","color":"red","strokeWidth":4},"encoding":{"x":{"field":"x","type":"quantitative"}}},
{"data":{"values":[{"t":"d"}]},"mark":{"type":"text","fontSize":47,"fontStyle":"italic","angle":270,"align":"left","baseline":"alphabetic"},"encoding":{"text":{"field":"t"},"x":{"datum":1.39329,"type":"quantitative"},"y":{"datum":2715.3,"type":"quantitative"}}},
{"data":{"values":[{"t":"L"}]},"mark":{"type":"text","fontSize":33,"fontStyle":"italic","angle":270,"align":"left","baseline":"alphabetic"},"encoding":{"text":{"field":"t"},"x":{"datum":1.39514,"type":"quantitative"},"y":{"datum":2731.1,"type":"quantitative"}}},
{"data":{"values":[{"t":"(Mpc)"}]},"mark":{"type":"text","fontSize":47,"angle":270,"align":"left","baseline":"alphabetic"},"encoding":{"text":{"field":"t"},"x":{"datum":1.39329,"type":"quantitative"},"y":{"datum":2753.7,"type":"quantitative"}}},
{"data":{"values":[{"t":"ι"}]},"mark":{"type":"text","fontSize":47,"fontStyle":"italic","align":"center","baseline":"alphabetic"},"encoding":{"text":{"field":"t"},"x":{"datum":1.525,"type":"quantitative"},"y":{"datum":2496.2,"type":"quantitative"}}}
]},
{"width":302,"height":787,"layer":[
{"data":{"name":"right"},"mark":{"type":"area","orient":"horizontal","interpolate":"step-after","color":"#808080","clip":true},"encoding":{"y":{"field":"y","type":"quantitative","scale":{"domain":[2551.9,2996.3],"nice":false,"zero":false},"axis":{"values":[2600,2650,2700,2750,2800,2850,2900,2950],"labels":false}},"x":{"field":"h","type":"quantitative","scale":{"domain":[-1,301],"nice":false,"zero":false},"axis":null}}},
{"data":{"name":"right"},"mark":{"type":"line","interpolate":"step-before","color":"black","strokeWidth":5.4,"clip":true},"encoding":{"y":{"field":"y","type":"quantitative"},"x":{"field":"h","type":"quantitative","axis":null},"order":{"field":"y"}}},
{"data":{"values":[{"b":0}]},"mark":{"type":"rule","color":"black","strokeWidth":5,"clip":true},"encoding":{"x":{"field":"b","type":"quantitative","axis":null}}},
{"data":{"name":"priorRight"},"mark":{"type":"line","color":"black","strokeWidth":4.8,"strokeDash":[4.8,9.9],"clip":true},"encoding":{"y":{"field":"y","type":"quantitative"},"x":{"field":"h","type":"quantitative","axis":null},"order":{"field":"y"}}},
{"data":{"values":[{"y":2886.4},{"y":2813.6},{"y":2734.5}]},"mark":{"type":"rule","color":"#1f77b4","strokeWidth":5.2,"strokeDash":[20,9.5],"clip":true},"encoding":{"y":{"field":"y","type":"quantitative"},"x":{"datum":-1,"type":"quantitative","axis":null},"x2":{"datum":301}}},
{"data":{"values":[{"t":"d"}]},"mark":{"type":"text","fontSize":41,"fontStyle":"italic","angle":90,"align":"left","baseline":"alphabetic"},"encoding":{"text":{"field":"t"},"x":{"datum":331,"type":"quantitative","axis":null},"y":{"datum":3003.6,"type":"quantitative"}}},
{"data":{"values":[{"t":"L"}]},"mark":{"type":"text","fontSize":28,"fontStyle":"italic","angle":90,"align":"left","baseline":"alphabetic"},"encoding":{"text":{"field":"t"},"x":{"datum":325,"type":"quantitative","axis":null},"y":{"datum":2988.6,"type":"quantitative"}}},
{"data":{"values":[{"t":"(Mpc)"}]},"mark":{"type":"text","fontSize":41,"angle":90,"align":"left","baseline":"alphabetic"},"encoding":{"text":{"field":"t"},"x":{"datum":331,"type":"quantitative","axis":null},"y":{"datum":2969.2,"type":"quantitative"}}},
{"data":{"values":[{"t":"="}]},"mark":{"type":"text","fontSize":41,"angle":90,"align":"left","baseline":"alphabetic"},"encoding":{"text":{"field":"t"},"x":{"datum":331,"type":"quantitative","axis":null},"y":{"datum":2897.6,"type":"quantitative"}}},
{"data":{"values":[{"t":"2.814"}]},"mark":{"type":"text","fontSize":41,"angle":90,"align":"left","baseline":"alphabetic"},"encoding":{"text":{"field":"t"},"x":{"datum":331,"type":"quantitative","axis":null},"y":{"datum":2869.9,"type":"quantitative"}}},
{"data":{"values":[{"t":"+0.073"}]},"mark":{"type":"text","fontSize":29.5,"angle":90,"align":"left","baseline":"alphabetic"},"encoding":{"text":{"field":"t"},"x":{"datum":348,"type":"quantitative","axis":null},"y":{"datum":2804.8,"type":"quantitative"}}},
{"data":{"values":[{"t":"−0.079"}]},"mark":{"type":"text","fontSize":29.5,"angle":90,"align":"left","baseline":"alphabetic"},"encoding":{"text":{"field":"t"},"x":{"datum":321,"type":"quantitative","axis":null},"y":{"datum":2804.8,"type":"quantitative"}}},
{"data":{"values":[{"t":"×"}]},"mark":{"type":"text","fontSize":41,"angle":90,"align":"left","baseline":"alphabetic"},"encoding":{"text":{"field":"t"},"x":{"datum":331,"type":"quantitative","axis":null},"y":{"datum":2738.7,"type":"quantitative"}}},
{"data":{"values":[{"t":"10"}]},"mark":{"type":"text","fontSize":41,"angle":90,"align":"left","baseline":"alphabetic"},"encoding":{"text":{"field":"t"},"x":{"datum":331,"type":"quantitative","axis":null},"y":{"datum":2713.5,"type":"quantitative"}}},
{"data":{"values":[{"t":"3"}]},"mark":{"type":"text","fontSize":28,"angle":90,"align":"left","baseline":"alphabetic"},"encoding":{"text":{"field":"t"},"x":{"datum":348,"type":"quantitative","axis":null},"y":{"datum":2684.3,"type":"quantitative"}}}
]}
],"spacing":30,"bounds":"flush"}
],"spacing":27,"bounds":"flush"}
